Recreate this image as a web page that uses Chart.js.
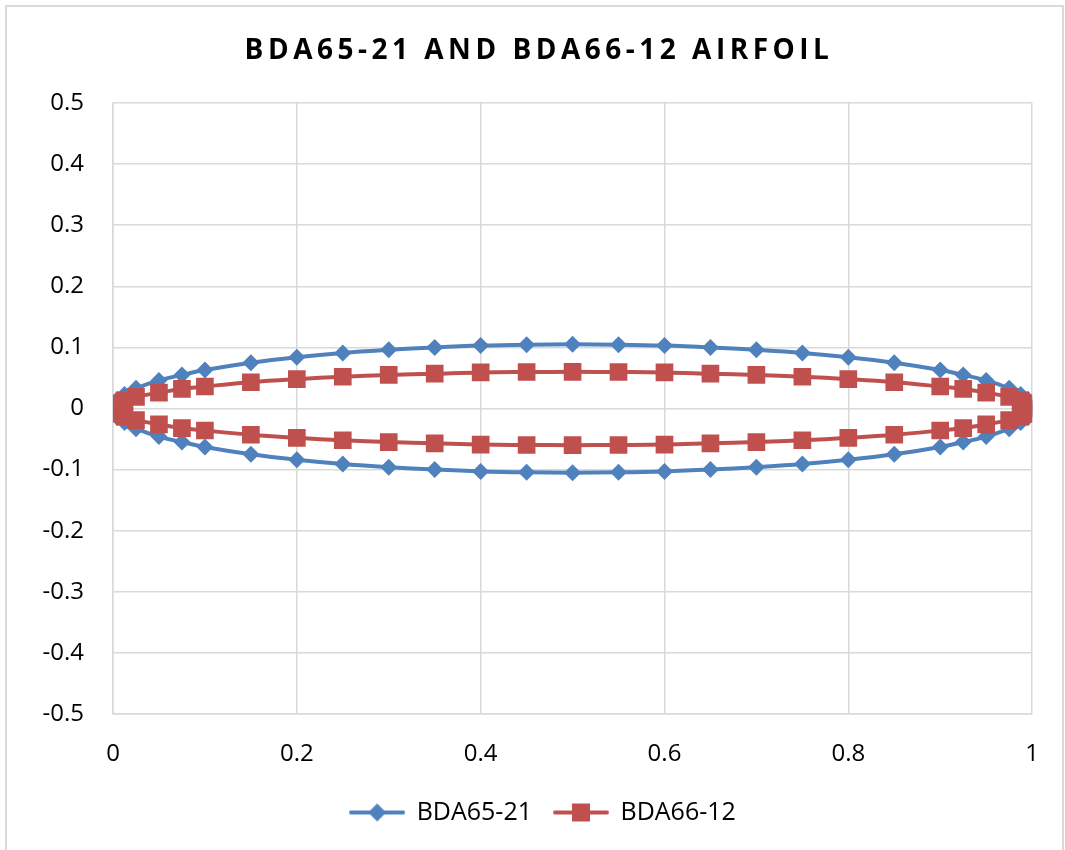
<!DOCTYPE html>
<html><head><meta charset="utf-8">
<script src="https://cdn.jsdelivr.net/npm/chart.js@4/dist/chart.umd.min.js"></script>
<style>
html,body{margin:0;padding:0;background:#fff;}
#frame{position:absolute;left:5px;top:5px;width:1055px;height:850px;border:2px solid #d9d9d9;border-bottom:none;}
#wrap{position:absolute;left:0;top:0;width:1065px;height:850px;}
</style></head><body>
<div id="frame"></div>
<div id="wrap"><canvas id="c" width="1065" height="850"></canvas></div>
<script>
// chord stations, leading edge (0) to trailing edge (1)
const chordX = [0, 0.005, 0.0125, 0.025, 0.05, 0.075, 0.1, 0.15, 0.2, 0.25, 0.3, 0.35, 0.4, 0.45, 0.5,
                0.55, 0.6, 0.65, 0.7, 0.75, 0.8, 0.85, 0.9, 0.925, 0.95, 0.975, 0.9875, 0.995, 1];
const bda6521Upper = [0, 0.015, 0.023, 0.033, 0.046, 0.055, 0.063, 0.075, 0.084, 0.091, 0.096, 0.100, 0.103, 0.1045, 0.105,
                      0.1045, 0.103, 0.100, 0.096, 0.091, 0.084, 0.075, 0.063, 0.055, 0.046, 0.033, 0.023, 0.015, 0];
const bda6521Lower = [0, -0.015, -0.023, -0.033, -0.046, -0.055, -0.063, -0.075, -0.084, -0.091, -0.096, -0.100, -0.103, -0.1045, -0.105,
                      -0.1045, -0.103, -0.100, -0.096, -0.091, -0.084, -0.075, -0.063, -0.055, -0.046, -0.033, -0.023, -0.015, 0];
const bda6612Upper = [0, 0.0085, 0.013, 0.019, 0.026, 0.032, 0.036, 0.043, 0.048, 0.052, 0.055, 0.057, 0.059, 0.0597, 0.060,
                      0.0597, 0.059, 0.057, 0.055, 0.052, 0.048, 0.043, 0.036, 0.032, 0.026, 0.019, 0.013, 0.0085, 0];
const bda6612Lower = [0, -0.0085, -0.013, -0.019, -0.026, -0.032, -0.036, -0.043, -0.048, -0.052, -0.055, -0.057, -0.059, -0.0597, -0.060,
                      -0.0597, -0.059, -0.057, -0.055, -0.052, -0.048, -0.043, -0.036, -0.032, -0.026, -0.019, -0.013, -0.0085, 0];
const seriesNames = ['BDA65-21', 'BDA66-12'];
const xTicks = [0, 0.2, 0.4, 0.6, 0.8, 1];
const yTicks = [-0.5, -0.4, -0.3, -0.2, -0.1, 0, 0.1, 0.2, 0.3, 0.4, 0.5];
const chartTitle = 'BDA65-21 AND BDA66-12 AIRFOIL';

const BLUE = '#4F81BD', RED = '#C0504D', GRID = '#d9d9d9';
const FONT = "'Open Sans', 'Liberation Sans', sans-serif";

// Selig-style loop: trailing edge -> upper surface -> leading edge -> lower surface -> trailing edge
function loop(upper, lower) {
  const pts = [];
  for (let i = chordX.length - 1; i >= 0; i--) pts.push({x: chordX[i], y: upper[i]});
  for (let i = 1; i < chordX.length; i++) pts.push({x: chordX[i], y: lower[i]});
  return pts;
}

function legendIcon(color, shape) {
  const cv = document.createElement('canvas');
  cv.width = 56; cv.height = 22;
  const g = cv.getContext('2d');
  g.strokeStyle = color; g.lineWidth = 4; g.lineCap = 'round';
  g.beginPath(); g.moveTo(2, 11); g.lineTo(54, 11); g.stroke();
  g.fillStyle = color;
  if (shape === 'diamond') {
    g.beginPath(); g.moveTo(28, 2); g.lineTo(37, 11); g.lineTo(28, 20); g.lineTo(19, 11); g.closePath(); g.fill();
  } else {
    g.fillRect(19, 2, 18, 18);
  }
  return cv;
}
const icons = [legendIcon(BLUE, 'diamond'), legendIcon(RED, 'square')];

const layoutPatch = {
  id: 'layoutPatch',
  afterInit(chart) {
    const tb = chart.titleBlock;
    const tdraw = tb.draw;
    tb.draw = function () {
      const ctx = this.ctx; const prev = ctx.letterSpacing;
      ctx.letterSpacing = '4.5px';
      ctx.save(); ctx.translate(22, 0);
      tdraw.apply(this, arguments);
      ctx.restore();
      ctx.letterSpacing = prev;
    };
    const lg = chart.legend;
    const lfit = lg.fit;
    lg.fit = function () { lfit.apply(this, arguments); this.height = 72; };
    const ldraw = lg.draw;
    lg.draw = function () {
      const ctx = this.ctx;
      ctx.save(); ctx.translate(26, 0);
      ldraw.apply(this, arguments);
      ctx.restore();
    };
  }
};

new Chart(document.getElementById('c'), {
  type: 'scatter',
  data: {
    datasets: [
      {
        label: seriesNames[0], data: loop(bda6521Upper, bda6521Lower),
        showLine: true, borderColor: BLUE, backgroundColor: BLUE, borderWidth: 4, tension: 0.4,
        pointStyle: 'rectRot', pointRadius: 8.5, pointHoverRadius: 8.5, pointBorderWidth: 0, order: 1
      },
      {
        label: seriesNames[1], data: loop(bda6612Upper, bda6612Lower),
        showLine: true, borderColor: RED, backgroundColor: RED, borderWidth: 4, tension: 0.4,
        pointStyle: 'rect', pointRadius: 12.5, pointHoverRadius: 12.5, pointBorderWidth: 0, order: 0
      }
    ]
  },
  options: {
    responsive: false, animation: false, devicePixelRatio: 1,
    layout: {padding: {left: 0, right: 31, top: 0, bottom: 0}},
    plugins: {
      tooltip: {enabled: false},
      title: {
        display: true, text: chartTitle, color: '#000',
        font: {family: FONT, size: 28, weight: 'bold', lineHeight: 1.2},
        padding: {top: 34, bottom: 35.4}
      },
      legend: {
        position: 'bottom',
        labels: {
          color: '#000', font: {family: FONT, size: 25},
          usePointStyle: true, pointStyleWidth: 54, padding: 22,
          sort: (a, b) => a.datasetIndex - b.datasetIndex,
          generateLabels(chart) {
            const items = Chart.defaults.plugins.legend.labels.generateLabels(chart);
            items.forEach(it => { it.pointStyle = icons[it.datasetIndex]; });
            return items;
          }
        }
      }
    },
    scales: {
      x: {
        type: 'linear', min: 0, max: 1,
        afterBuildTicks: s => { s.ticks = xTicks.map(v => ({value: v})); },
        afterFit: s => { s.height = 64; },
        ticks: {color: '#000', font: {family: FONT, size: 24}, padding: 26, callback: v => String(v)},
        grid: {color: GRID, lineWidth: 1.5, drawTicks: false},
        border: {color: GRID, width: 1.5}
      },
      y: {
        type: 'linear', min: -0.5, max: 0.5,
        afterBuildTicks: s => { s.ticks = yTicks.map(v => ({value: v})); },
        afterFit: s => { s.width = 113; },
        ticks: {color: '#000', font: {family: FONT, size: 24}, padding: 29, callback: v => String(v)},
        grid: {color: GRID, lineWidth: 1.5, drawTicks: false},
        border: {color: GRID, width: 1.5}
      }
    }
  },
  plugins: [layoutPatch]
});
</script>
</body></html>
